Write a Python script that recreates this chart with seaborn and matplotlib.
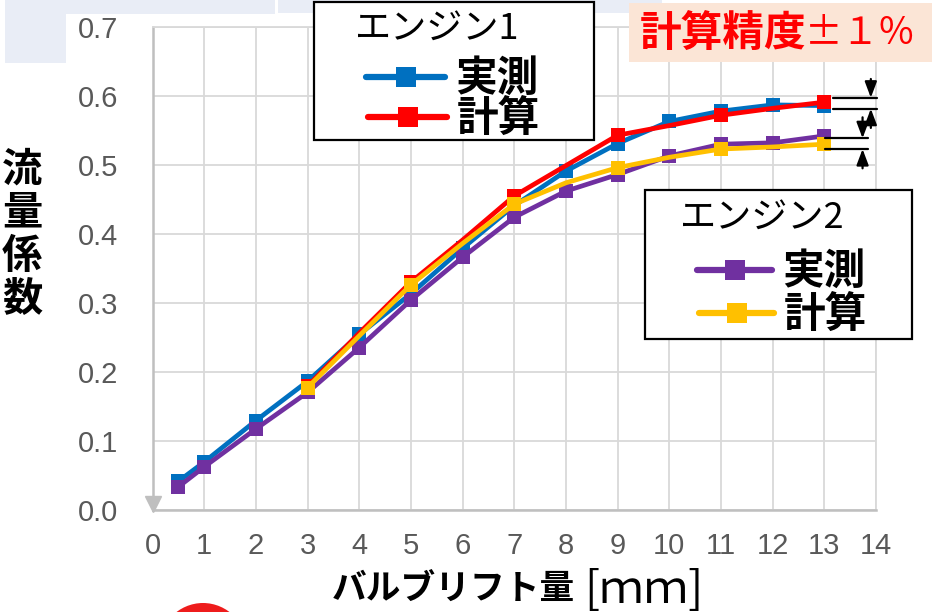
import matplotlib
matplotlib.use("Agg")
import matplotlib.pyplot as plt
import seaborn as sns
from matplotlib.patches import Rectangle, Ellipse
from matplotlib.lines import Line2D

# ---- data: flow coefficient vs. valve lift ----
lift = [0.5, 1, 2, 3, 4, 5, 6, 7, 8, 9, 10, 11, 12, 13]
engine1_measured = [0.041, 0.069, 0.129, 0.186, 0.254, 0.313, 0.379, 0.441,
                    0.491, 0.531, 0.563, 0.578, 0.587, 0.586]
engine2_measured = [0.033, 0.062, 0.117, 0.170, 0.235, 0.304, 0.366, 0.424,
                    0.462, 0.486, 0.513, 0.530, 0.532, 0.542]

calc_lift = [3, 4, 5, 6, 7, 8, 9, 10, 11, 12, 13]
engine1_calc = [0.179, 0.256, 0.330, 0.391, 0.455, 0.499, 0.543, 0.557,
                0.572, 0.582, 0.591]
engine2_calc = [0.177, 0.252, 0.326, 0.386, 0.443, 0.474, 0.496, 0.511,
                0.523, 0.526, 0.530]
calc_marker_lift = [3, 5, 7, 9, 11, 13]

x_ticks = list(range(0, 15))
y_ticks = [0.0, 0.1, 0.2, 0.3, 0.4, 0.5, 0.6, 0.7]

# +/-1 % accuracy brackets at the end of each engine's curves
band_engine1 = [0.5815, 0.5974]
band_engine2 = [0.5230, 0.5386]

BLUE, RED, PURPLE, YELLOW = "#0070c0", "#ff0000", "#7030a0", "#ffc000"
GRID, AXIS, TICK = "#d9d9d9", "#bfbfbf", "#595959"

sns.set_theme(style="white")
plt.rcParams["font.family"] = ["Noto Sans CJK JP", "DejaVu Sans"]

W, H = 932, 612
fig = plt.figure(figsize=(W / 100, H / 100), dpi=100)


def fx(px):
    return px / W


def fy(py):
    return 1 - py / H


ax_l, ax_r, ax_t, ax_b = 152.5, 876.0, 27.0, 509.6
ax = fig.add_axes([fx(ax_l), fy(ax_b), (ax_r - ax_l) / W, (ax_b - ax_t) / H])

# slide background remnants along the top and bottom edges
for (x0, y0, x1, y1) in [(5, 0, 275, 14), (5, 0, 66, 63), (278, 0, 662, 13)]:
    fig.add_artist(Rectangle((fx(x0), fy(y1)), (x1 - x0) / W, (y1 - y0) / H,
                             transform=fig.transFigure, color="#e9edf6",
                             lw=0, zorder=-5))
fig.add_artist(Ellipse((fx(203), fy(650)), 90 / W, 94 / H,
                       transform=fig.transFigure, color="#ee1c1c", lw=0,
                       zorder=-4))

calc_idx = [calc_lift.index(v) for v in calc_marker_lift]
line_kw = dict(linewidth=3.4, marker="s", markersize=10, markeredgewidth=0)

sns.lineplot(x=lift, y=engine1_measured, ax=ax, color=BLUE, zorder=3, **line_kw)
sns.lineplot(x=calc_lift, y=engine1_calc, ax=ax, color=RED, zorder=4,
             markevery=calc_idx, **line_kw)
sns.lineplot(x=lift, y=engine2_measured, ax=ax, color=PURPLE, zorder=5, **line_kw)
sns.lineplot(x=calc_lift, y=engine2_calc, ax=ax, color=YELLOW, zorder=6,
             markevery=calc_idx, **line_kw)

ax.set_xlim(0, 14)
ax.set_ylim(0, 0.7)
ax.set_xticks(x_ticks, labels=[str(v) for v in x_ticks],
              fontfamily="Liberation Sans")
ax.set_yticks(y_ticks, labels=[f"{v:.1f}" for v in y_ticks],
              fontfamily="Liberation Sans")
ax.tick_params(axis="both", length=0, labelsize=21, labelcolor=TICK)
ax.tick_params(axis="x", pad=16)
ax.tick_params(axis="y", pad=25)
ax.grid(True, color=GRID, linewidth=1.3)
ax.set_axisbelow(True)
for side in ("top", "right"):
    ax.spines[side].set_color(GRID)
    ax.spines[side].set_linewidth(1.3)
for side in ("left", "bottom"):
    ax.spines[side].set_color(AXIS)
    ax.spines[side].set_linewidth(1.8)
ax.set_xlabel("")
ax.set_ylabel("")

# small arrowhead at the origin
ax.plot([0], [0.008], marker="v", markersize=11, color=AXIS, clip_on=False,
        zorder=2)

# accuracy brackets
for band, (x0, x1, xa), (top, bot) in [
        (band_engine1, (13.16, 14.01, 13.90), (0.6246, 0.5536)),
        (band_engine2, (13.01, 13.85, 13.74), (0.5690, 0.4950))]:
    for lvl in band:
        ax.plot([x0, x1], [lvl, lvl], color="black", lw=1.6, clip_on=False,
                zorder=7)
    arrow = dict(arrowstyle="-|>,head_length=0.8,head_width=0.3",
                 color="black", lw=1.6, mutation_scale=12,
                 shrinkA=0, shrinkB=0)
    ax.annotate("", xy=(xa, band[1]), xytext=(xa, top), arrowprops=arrow,
                annotation_clip=False, zorder=7)
    ax.annotate("", xy=(xa, band[0]), xytext=(xa, bot), arrowprops=arrow,
                annotation_clip=False, zorder=7)

# axis titles
for ch, yc in zip("流量係数", [170, 213, 256, 299]):
    fig.text(fx(22), fy(yc), ch, fontsize=29, fontweight="bold",
             ha="center", va="center", color="black")
fig.text(fx(332), fy(588), "バルブリフト量", fontsize=25, fontweight="bold",
         ha="left", va="center", color="black")
fig.text(fx(584), fy(590), "[ｍｍ]", fontsize=32, ha="left", va="center",
         color="black")

# accuracy note
fig.add_artist(Rectangle((fx(629), fy(62.3)), (932 - 629) / W, 59 / H,
                         transform=fig.transFigure, color="#fbe5d6", lw=0,
                         zorder=1))
fig.text(fx(640), fy(34), "計算精度", fontsize=30, fontweight="bold",
         color=RED, ha="left", va="center", zorder=2)
fig.text(fx(805), fy(34), "±１%", fontsize=27, color=RED, ha="left",
         va="center", zorder=2)


# boxed legends, one per engine
def engine_legend(box, title, title_xy, entries):
    x0, y0, x1, y1 = box
    fig.add_artist(Rectangle((fx(x0), fy(y1)), (x1 - x0) / W, (y1 - y0) / H,
                             transform=fig.transFigure, facecolor="white",
                             edgecolor="black", lw=1.6, zorder=8))
    fig.text(fx(title_xy[0]), fy(title_xy[1]), title, fontsize=26,
             ha="left", va="center", color="black", zorder=9)
    for color, (lx0, lx1, ly), label in entries:
        fig.add_artist(Line2D([fx(lx0), fx(lx1)], [fy(ly), fy(ly)],
                              transform=fig.transFigure, color=color, lw=4.5,
                              zorder=9))
        fig.add_artist(Line2D([fx((lx0 + lx1) / 2)], [fy(ly)],
                              transform=fig.transFigure, color=color,
                              marker="s", markersize=14.5, markeredgewidth=0,
                              zorder=9))
        fig.text(fx(lx1 + 10), fy(ly + 2), label, fontsize=30,
                 fontweight="bold", ha="left", va="center", color="black",
                 zorder=9)


engine_legend((314, 1.7, 594, 140), "エンジン1", (355, 29),
              [(BLUE, (366, 445, 76.7), "実測"),
               (RED, (368, 447, 116.7), "計算")])
engine_legend((645, 190, 912, 339), "エンジン2", (680, 218),
              [(PURPLE, (697, 772, 270), "実測"),
               (YELLOW, (699, 774, 313), "計算")])

fig.savefig("out.png", dpi=100)
